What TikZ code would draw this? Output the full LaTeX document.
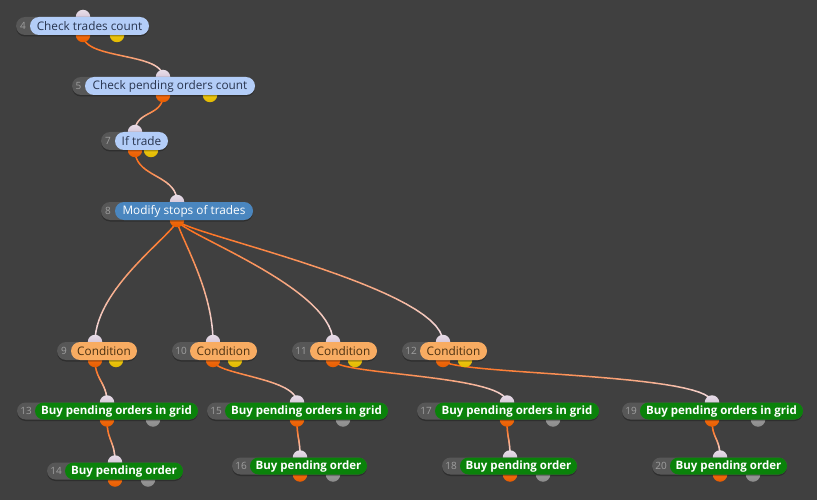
\documentclass[tikz,border=0pt]{standalone}
\usepackage{fontspec}
\setmainfont{Open Sans}
\definecolor{bg}{HTML}{404040}
\definecolor{numfill}{HTML}{575757}
\definecolor{numtxt}{HTML}{A0A0A0}
\definecolor{lbluefill}{HTML}{B3CDF8}
\definecolor{lbluetxt}{HTML}{28344E}
\definecolor{bluefill}{HTML}{4A86BF}
\definecolor{orfill}{HTML}{F8AC62}
\definecolor{ortxt}{HTML}{4A3010}
\definecolor{grfill}{HTML}{0A820A}
\definecolor{portor}{HTML}{E65C00}
\definecolor{portorhi}{HTML}{FF7A20}
\definecolor{portye}{HTML}{E2BA00}
\definecolor{portyehi}{HTML}{F5D020}
\definecolor{portgr}{HTML}{8A8A8A}
\definecolor{portgrhi}{HTML}{A8A8A8}
\definecolor{portin}{HTML}{C8B4CC}
\definecolor{portinhi}{HTML}{E8DDE8}
\definecolor{edgeor}{HTML}{FF6A10}
\definecolor{edgepale}{HTML}{F2E4F0}
\tikzset{
  lblue/.style={fill=lbluefill},
  lblue text/.style={text=lbluetxt, font=\fontsize{11.8}{13}\selectfont, inner sep=0pt},
  dblue/.style={fill=bluefill},
  dblue text/.style={text=white, font=\fontsize{11.8}{13}\selectfont, inner sep=0pt},
  orpill/.style={fill=orfill},
  orpill text/.style={text=ortxt, font=\fontsize{11.8}{13}\selectfont, inner sep=0pt},
  grpill/.style={fill=grfill},
  grpill text/.style={text=white, font=\fontsize{11.5}{13}\selectfont\bfseries, inner sep=0pt},
  numtext/.style={text=numtxt, font=\fontsize{10}{11}\selectfont, inner sep=0pt},
  pillshadow/.style={fill=black, opacity=0.28},
  portbase/.style={circle, minimum size=14.5pt, inner sep=0pt},
  inport/.style={portbase, top color=portinhi, bottom color=portin},
  outport/.style={portbase, top color=portorhi, bottom color=portor},
  yport/.style={portbase, top color=portyehi, bottom color=portye},
  gport/.style={portbase, top color=portgrhi, bottom color=portgr},
  edgeline/.style={line width=1.5pt, line cap=round},
}
\newcommand\flowpill[9]{%
  \fill[pillshadow,rounded corners=#7pt] (#3,{#6-#7+1.5}) rectangle (#5,{#6+#7+1.5});
  \fill[numfill,rounded corners=#7pt] (#3,{#6-#7}) rectangle (#5,{#6+#7});
  \node[numtext] at ({(#3+#4)/2},#6) {#2};
  \fill[#8,rounded corners=#7pt] (#4,{#6-#7}) rectangle (#5,{#6+#7});
  \node[#8 text] (#1) at ({(#4+#5)/2},{#6+0.5}) {#9};
}
% edge with a colour gradient along the curve: from, to, start pull, end pull
\newcommand\flowedge[4]{%
  \path (#1) .. controls +(0,#3) and +(0,-#4) .. (#2)
    foreach \k [evaluate=\k as \tp using \k/30] in {0,...,30}{coordinate[pos=\tp] (e\k)};
  \foreach \k [evaluate=\k as \j using int(\k+1),
               evaluate=\k as \pc using {min(100,100*((\k+0.5)/30)^1.5)}] in {0,...,29}{
    \draw[edgeline, color=edgepale!\pc!edgeor] (e\k) -- (e\j);
  }%
}
\begin{document}
\begin{tikzpicture}[x=1pt,y=-1pt]
\fill[bg] (0,0) rectangle (817,500);
\useasboundingbox (0,0) rectangle (817,500);
% ports
\coordinate (i4) at (83,17);   \coordinate (o4) at (83,35);   \coordinate (a4) at (117,35);
\coordinate (i5) at (163,77);  \coordinate (o5) at (163,95);  \coordinate (a5) at (210,95);
\coordinate (i7) at (135,132); \coordinate (o7) at (135,150); \coordinate (a7) at (151,150);
\coordinate (i8) at (177,202); \coordinate (o8) at (177,220);
\coordinate (i9) at (95,342);  \coordinate (o9) at (95,360);  \coordinate (a9) at (116,360);
\coordinate (i10) at (213,342); \coordinate (o10) at (213,360); \coordinate (a10) at (235,360);
\coordinate (i11) at (333,342); \coordinate (o11) at (333,360); \coordinate (a11) at (355,360);
\coordinate (i12) at (443,342); \coordinate (o12) at (443,360); \coordinate (a12) at (465,360);
\coordinate (i13) at (107,402.5); \coordinate (o13) at (107,419.5); \coordinate (a13) at (153,419.5);
\coordinate (i15) at (297,402.5); \coordinate (o15) at (297,419.5); \coordinate (a15) at (343,419.5);
\coordinate (i17) at (507,402.5); \coordinate (o17) at (507,419.5); \coordinate (a17) at (553,419.5);
\coordinate (i19) at (712,402.5); \coordinate (o19) at (712,419.5); \coordinate (a19) at (758,419.5);
\coordinate (i14) at (115,462.5); \coordinate (o14) at (115,479.5); \coordinate (a14) at (148,479.5);
\coordinate (i16) at (300,457.5); \coordinate (o16) at (300,474.5); \coordinate (a16) at (333,474.5);
\coordinate (i18) at (510,457.5); \coordinate (o18) at (510,474.5); \coordinate (a18) at (543,474.5);
\coordinate (i20) at (720,457.5); \coordinate (o20) at (720,474.5); \coordinate (a20) at (753,474.5);
% edges
\flowedge{o4}{i5}{25}{25}
\flowedge{o5}{i7}{22}{22}
\flowedge{o7}{i8}{28}{28}
\flowedge{o8}{i9}{12}{55}
\flowedge{o8}{i10}{12}{55}
\flowedge{o8}{i11}{12}{55}
\flowedge{o8}{i12}{12}{55}
\flowedge{o9}{i13}{20}{20}
\flowedge{o10}{i15}{15}{25}
\flowedge{o11}{i17}{15}{28}
\flowedge{o12}{i19}{15}{30}
\flowedge{o13}{i14}{22}{22}
\flowedge{o15}{i16}{20}{20}
\flowedge{o17}{i18}{20}{20}
\flowedge{o19}{i20}{20}{20}
% port circles
\foreach \n in {4,5,7,8,9,10,11,12,13,14,15,16,17,18,19,20}{
  \node[inport] (pin\n) at (i\n) {};
  \node[outport] (pout\n) at (o\n) {};
}
\foreach \n in {4,5,7,9,10,11,12}{\node[yport] (paux\n) at (a\n) {};}
\foreach \n in {13,14,15,16,17,18,19,20}{\node[gport] (paux\n) at (a\n) {};}
% pills
\flowpill{n4}{4}{16}{30}{149}{26}{9}{lblue}{Check trades count}
\flowpill{n5}{5}{72}{85}{255}{86}{9}{lblue}{Check pending orders count}
\flowpill{n7}{7}{101}{115}{168}{141}{9}{lblue}{If trade}
\flowpill{n8}{8}{101}{115}{253}{211}{9}{dblue}{Modify stops of trades}
\flowpill{n9}{9}{57}{71}{137}{351}{9}{orpill}{Condition}
\flowpill{n10}{10}{172}{190}{257}{351}{9}{orpill}{Condition}
\flowpill{n11}{11}{292}{310}{377}{351}{9}{orpill}{Condition}
\flowpill{n12}{12}{402}{420}{487}{351}{9}{orpill}{Condition}
\flowpill{n13}{13}{17}{35}{198}{411}{8.5}{grpill}{Buy pending orders in grid}
\flowpill{n15}{15}{207}{225}{388}{411}{8.5}{grpill}{Buy pending orders in grid}
\flowpill{n17}{17}{417}{435}{599}{411}{8.5}{grpill}{Buy pending orders in grid}
\flowpill{n19}{19}{622}{640}{803}{411}{8.5}{grpill}{Buy pending orders in grid}
\flowpill{n14}{14}{47}{65}{183}{471}{8.5}{grpill}{Buy pending order}
\flowpill{n16}{16}{232}{250}{367}{466}{8.5}{grpill}{Buy pending order}
\flowpill{n18}{18}{442}{460}{577}{466}{8.5}{grpill}{Buy pending order}
\flowpill{n20}{20}{652}{670}{787}{466}{8.5}{grpill}{Buy pending order}
\end{tikzpicture}
\end{document}
